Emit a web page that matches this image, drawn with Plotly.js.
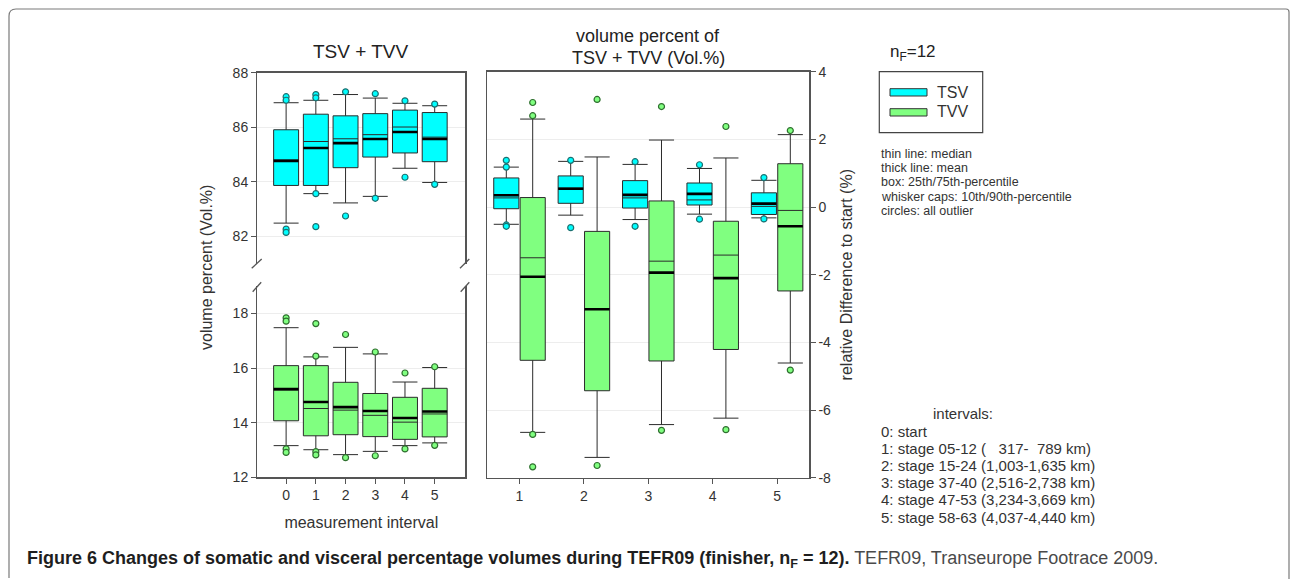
<!DOCTYPE html>
<html>
<head>
<meta charset="utf-8">
<script src="https://cdn.plot.ly/plotly-3.0.1.min.js"></script>
<style>
html, body { margin: 0; padding: 0; background: #ffffff; }
#chart { width: 1290px; height: 579px; }
</style>
</head>
<body>
<div id="chart"></div>
<script>
// ---------------- DATA ----------------
const intervalsAll = [0, 1, 2, 3, 4, 5];
const intervalsRel = [1, 2, 3, 4, 5];

// TSV volume percent (Vol.%), intervals 0..5
const tsvP10 = [82.49, 83.57, 83.23, 83.47, 84.50, 83.98];
const tsvQ1 = [83.87, 83.87, 84.52, 84.91, 85.06, 84.74];
const tsvMedian = [84.80, 85.48, 85.58, 85.73, 86.01, 85.64];
const tsvMean = [84.77, 85.24, 85.42, 85.57, 85.83, 85.57];
const tsvQ3 = [85.91, 86.48, 86.42, 86.50, 86.63, 86.54];
const tsvP90 = [86.90, 86.99, 87.20, 87.07, 86.88, 86.79];
const tsvOutliers = [[87.12, 86.99, 82.27, 82.15], [87.20, 87.08, 83.57, 82.36], [87.30, 82.75], [87.23, 83.40], [86.97, 84.17], [86.85, 83.91]];

// TVV volume percent (Vol.%), intervals 0..5
const tvvP10 = [13.16, 13.01, 12.83, 12.95, 13.16, 13.26];
const tvvQ1 = [14.07, 13.52, 13.56, 13.49, 13.39, 13.48];
const tvvMedian = [15.20, 14.52, 14.46, 14.27, 14.02, 14.32];
const tvvMean = [15.23, 14.76, 14.57, 14.43, 14.17, 14.41];
const tvvQ3 = [16.09, 16.09, 15.48, 15.07, 14.93, 15.26];
const tvvP90 = [17.48, 16.41, 16.76, 16.52, 15.49, 16.02];
const tvvOutliers = [[17.84, 17.72, 13.04, 12.91], [17.63, 16.44, 12.94, 12.82], [17.23, 12.72], [16.59, 12.79], [15.82, 13.04], [16.05, 13.17]];

// relative difference to start (%), intervals 1..5
const tsvRelP10 = [-0.51, -0.24, -0.37, -0.21, -0.32];
const tsvRelQ1 = [-0.05, 0.11, -0.03, 0.06, -0.22];
const tsvRelMedian = [0.27, 0.56, 0.27, 0.21, 0.02];
const tsvRelMean = [0.35, 0.54, 0.36, 0.39, 0.10];
const tsvRelQ3 = [0.86, 0.92, 0.78, 0.71, 0.42];
const tsvRelP90 = [1.18, 1.35, 1.26, 1.14, 0.79];
const tsvRelOutliers = [[1.38, 1.18, -0.53, -0.57], [1.38, -0.61], [1.34, -0.57], [1.25, -0.36], [0.87, -0.35]];

const tvvRelP10 = [-6.66, -7.40, -6.43, -6.24, -4.61];
const tvvRelQ1 = [-4.53, -5.43, -4.55, -4.21, -2.48];
const tvvRelMedian = [-1.50, -3.00, -1.60, -1.42, -0.10];
const tvvRelMean = [-2.06, -3.02, -1.94, -2.10, -0.57];
const tvvRelQ3 = [0.28, -0.72, 0.18, -0.42, 1.28];
const tvvRelP90 = [2.60, 1.48, 1.98, 1.45, 2.14];
const tvvRelOutliers = [[3.09, 2.70, -6.72, -7.68], [3.18, -7.64], [2.97, -6.60], [2.38, -6.58], [2.26, -4.82]];

// tick labels
const topTicks = [82, 84, 86, 88];
const bottomTicks = [12, 14, 16, 18];
const relTicks = [4, 2, 0, -2, -4, -6, -8];
const relTickText = ['4', '2', '0', '-2', '-4', '-6', '-8'];

const seriesNames = ['TSV', 'TVV'];
const noteLines = ['thin line: median', 'thick line: mean', 'box: 25th/75th-percentile', 'whisker caps: 10th/90th-percentile', 'circles: all outlier'];
const intervalLines = ['0: start', '1: stage 05-12 (&nbsp;&nbsp;&nbsp;317-&nbsp;&nbsp;789 km)', '2: stage 15-24 (1,003-1,635 km)', '3: stage 37-40 (2,516-2,738 km)', '4: stage 47-53 (3,234-3,669 km)', '5: stage 58-63 (4,037-4,440 km)'];

// ---------------- STYLE ----------------
const W = 1290, H = 579;
const px = v => v / W;
const py = v => 1 - v / H;
const CYAN = '#00ffff';
const GREEN = '#80ff80';
const FONT = 'Liberation Sans, Arial, sans-serif';
const TXT = '#333333';
const LEFT_BOX_W = 0.84;
const REL_BOX_W = 0.39;
const REL_OFFSET = 0.205;

function boxTrace(xs, lo, q1, med, q3, hi, fill, xa, ya, w) {
  return {
    type: 'box', orientation: 'v', x: xs,
    lowerfence: lo, q1: q1, median: med, q3: q3, upperfence: hi,
    fillcolor: fill, line: { color: '#2b2b2b', width: 1 },
    whiskerwidth: 1, width: w, boxpoints: false,
    xaxis: xa, yaxis: ya, showlegend: false, hoverinfo: 'skip'
  };
}
function meanTrace(xs, mean, xa, ya, w) {
  return {
    type: 'box', orientation: 'v', x: xs,
    lowerfence: mean, q1: mean, median: mean, q3: mean, upperfence: mean,
    fillcolor: 'rgba(0,0,0,0)', line: { color: '#000000', width: 2.6 },
    whiskerwidth: 0, width: w, boxpoints: false,
    xaxis: xa, yaxis: ya, showlegend: false, hoverinfo: 'skip'
  };
}
function outlierTrace(xs, outs, fill, edge, xa, ya) {
  const ox = [], oy = [];
  xs.forEach((x, i) => outs[i].forEach(v => { ox.push(x); oy.push(v); }));
  return {
    type: 'scatter', mode: 'markers', x: ox, y: oy,
    marker: { size: 6, color: fill, line: { color: edge, width: 1.2 } },
    xaxis: xa, yaxis: ya, showlegend: false, hoverinfo: 'skip', cliponaxis: false
  };
}

const relX_tsv = intervalsRel.map(v => v - REL_OFFSET);
const relX_tvv = intervalsRel.map(v => v + REL_OFFSET);

const traces = [
  // top-left TSV
  boxTrace(intervalsAll, tsvP10, tsvQ1, tsvMedian, tsvQ3, tsvP90, CYAN, 'x3', 'y2', LEFT_BOX_W),
  meanTrace(intervalsAll, tsvMean, 'x3', 'y2', LEFT_BOX_W),
  outlierTrace(intervalsAll, tsvOutliers, CYAN, '#1d6f6f', 'x3', 'y2'),
  // bottom-left TVV
  boxTrace(intervalsAll, tvvP10, tvvQ1, tvvMedian, tvvQ3, tvvP90, GREEN, 'x', 'y', LEFT_BOX_W),
  meanTrace(intervalsAll, tvvMean, 'x', 'y', LEFT_BOX_W),
  outlierTrace(intervalsAll, tvvOutliers, GREEN, '#2f6f2f', 'x', 'y'),
  // right panel
  boxTrace(relX_tsv, tsvRelP10, tsvRelQ1, tsvRelMedian, tsvRelQ3, tsvRelP90, CYAN, 'x4', 'y3', REL_BOX_W),
  meanTrace(relX_tsv, tsvRelMean, 'x4', 'y3', REL_BOX_W),
  outlierTrace(relX_tsv, tsvRelOutliers, CYAN, '#1d6f6f', 'x4', 'y3'),
  boxTrace(relX_tvv, tvvRelP10, tvvRelQ1, tvvRelMedian, tvvRelQ3, tvvRelP90, GREEN, 'x4', 'y3', REL_BOX_W),
  meanTrace(relX_tvv, tvvRelMean, 'x4', 'y3', REL_BOX_W),
  outlierTrace(relX_tvv, tvvRelOutliers, GREEN, '#2f6f2f', 'x4', 'y3')
];

const axisLine = { showline: true, linecolor: '#555555', linewidth: 1.3, zeroline: false };
const tickFont = { family: FONT, size: 14, color: TXT };
const leftDomainX = [px(257.3), px(465.3)];

const layout = {
  width: W, height: H,
  margin: { l: 0, r: 0, t: 0, b: 0 },
  paper_bgcolor: '#ffffff', plot_bgcolor: 'rgba(0,0,0,0)',
  font: { family: FONT, color: TXT },
  showlegend: false,
  xaxis: Object.assign({}, axisLine, {
    domain: leftDomainX, anchor: 'y', range: [-0.97, 6.03],
    tickvals: intervalsAll, ticks: 'outside', ticklen: 5, tickcolor: '#555555',
    showgrid: false, tickfont: tickFont, mirror: false,
    title: { text: 'measurement interval', font: { family: FONT, size: 16, color: TXT }, standoff: 14 }
  }),
  xaxis3: Object.assign({}, axisLine, {
    domain: leftDomainX, anchor: 'y2', side: 'top', range: [-0.97, 6.03],
    showticklabels: false, ticks: '', showgrid: false, mirror: false
  }),
  yaxis: Object.assign({}, axisLine, {
    domain: [py(477.3), py(286.2)], anchor: 'x', range: [12, 19],
    tickvals: bottomTicks, ticks: 'outside', ticklen: 5, tickcolor: '#555555',
    mirror: true, showgrid: true, gridcolor: '#ededed', tickfont: tickFont
  }),
  yaxis2: Object.assign({}, axisLine, {
    domain: [py(263.8), py(72.7)], anchor: 'x3', range: [81, 88],
    tickvals: topTicks, ticks: 'outside', ticklen: 5, tickcolor: '#555555',
    mirror: true, showgrid: true, gridcolor: '#ededed', tickfont: tickFont
  }),
  xaxis4: Object.assign({}, axisLine, {
    domain: [px(487.3), px(809.3)], anchor: 'y3', range: [0.5, 5.5],
    tickvals: intervalsRel, ticks: 'outside', ticklen: 5, tickcolor: '#555555',
    mirror: true, showgrid: false, tickfont: tickFont
  }),
  yaxis3: Object.assign({}, axisLine, {
    domain: [py(477.7), py(71.7)], anchor: 'x4', side: 'right', range: [-8, 4],
    tickvals: relTicks, ticktext: relTickText, ticks: 'outside', ticklen: 5, tickcolor: '#555555',
    mirror: true, showgrid: true, gridcolor: '#ededed', tickfont: tickFont,
    title: { text: 'relative Difference to start (%)', font: { family: FONT, size: 16, color: TXT }, standoff: 10 }
  }),
  shapes: [],
  annotations: []
};

// figure border (rounded)
layout.shapes.push({
  type: 'path', xref: 'paper', yref: 'paper',
  path: `M ${px(9)} ${py(578)} L ${px(9)} ${py(16)} Q ${px(9)} ${py(9)} ${px(16)} ${py(9)} L ${px(1286)} ${py(9)} Q ${px(1289)} ${py(9)} ${px(1289)} ${py(12)} L ${px(1289)} ${py(579)}`,
  line: { color: '#7a7a7a', width: 1.2 }
});
// axis break marks
[[251.7, 268.3, 261.7, 259], [460, 268.3, 469.3, 259], [252.7, 291.7, 261.2, 282.3], [460.7, 291.7, 469.3, 282.3]].forEach(s => {
  layout.shapes.push({ type: 'line', xref: 'paper', yref: 'paper', x0: px(s[0]), y0: py(s[1]), x1: px(s[2]), y1: py(s[3]), line: { color: '#555555', width: 1.3 } });
});
// legend box and swatches
layout.shapes.push({ type: 'rect', xref: 'paper', yref: 'paper', x0: px(879.3), y0: py(132.7), x1: px(982.7), y1: py(71.7), line: { color: '#444444', width: 1.2 } });
layout.shapes.push({ type: 'rect', xref: 'paper', yref: 'paper', x0: px(890), y0: py(96), x1: px(927), y1: py(88.7), fillcolor: CYAN, line: { color: '#333333', width: 1 } });
layout.shapes.push({ type: 'rect', xref: 'paper', yref: 'paper', x0: px(890), y0: py(116), x1: px(927), y1: py(108.7), fillcolor: GREEN, line: { color: '#333333', width: 1 } });

function ann(text, x, y, size, opts) {
  return Object.assign({
    text: text, xref: 'paper', yref: 'paper', x: px(x), y: py(y),
    showarrow: false, xanchor: 'center', yanchor: 'middle',
    font: { family: FONT, size: size, color: TXT }
  }, opts || {});
}
layout.annotations.push(ann('TSV + TVV', 361, 52, 19, { font: { family: FONT, size: 19, color: '#222222' } }));
layout.annotations.push(ann('volume percent of', 648, 36, 18, { font: { family: FONT, size: 18, color: '#222222' } }));
layout.annotations.push(ann('TSV + TVV (Vol.%)', 648, 58, 18, { font: { family: FONT, size: 18, color: '#222222' } }));
layout.annotations.push(ann('volume percent (Vol.%)', 207, 268, 16, { textangle: -90 }));
layout.annotations.push(ann('n<sub>F</sub>=12', 888, 53, 17, { xanchor: 'left', font: { family: FONT, size: 17, color: '#222222' } }));
layout.annotations.push(ann(seriesNames[0], 935, 92, 16, { xanchor: 'left' }));
layout.annotations.push(ann(seriesNames[1], 935, 112, 16, { xanchor: 'left' }));
const noteY = [154, 168.2, 182.4, 196.6, 210.8];
noteLines.forEach((t, i) => layout.annotations.push(ann(t, 879.3, noteY[i], 12.5, { xanchor: 'left' })));
layout.annotations.push(ann('intervals:', 963, 413.3, 15));
const intY = [431, 448.2, 465.4, 482.6, 499.8, 517];
intervalLines.forEach((t, i) => layout.annotations.push(ann(t, 879.3, intY[i], 15, { xanchor: 'left' })));
// caption
layout.annotations.push(ann('<b>Figure 6 Changes of somatic and visceral percentage volumes during TEFR09 (finisher, n<sub>F</sub> = 12).</b> <span style="color:#4a4a4a">TEFR09, Transeurope Footrace 2009.</span>',
  25, 559, 18, { xanchor: 'left', font: { family: FONT, size: 18, color: '#1e1e1e' } }));

Plotly.newPlot('chart', traces, layout, { staticPlot: true, displayModeBar: false });
</script>
</body>
</html>
